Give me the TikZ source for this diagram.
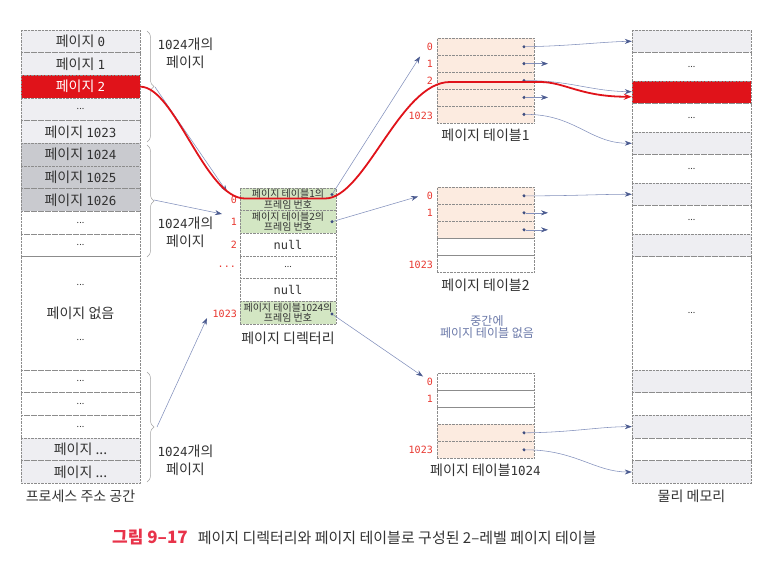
\documentclass[tikz,border=0pt]{standalone}
\usepackage{fontspec}
\setmainfont{Noto Sans CJK KR}
\newfontfamily\mono{DejaVu Sans Mono}
\usetikzlibrary{arrows.meta,decorations.pathreplacing}
\definecolor{cA}{HTML}{EEEEF2}
\definecolor{cB}{HTML}{C9CACF}
\definecolor{cR}{HTML}{E0131A}
\definecolor{cG}{HTML}{D3E6C3}
\definecolor{cP}{HTML}{FCEBE0}
\definecolor{bordc}{HTML}{8C8C8C}
\definecolor{txtc}{HTML}{333333}
\definecolor{idxc}{HTML}{E8372F}
\definecolor{connc}{HTML}{8290BC}
\definecolor{tipc}{HTML}{4B5B90}
\definecolor{dotc}{HTML}{3F4E80}
\definecolor{noteC}{HTML}{6A78A8}
\definecolor{capR}{HTML}{E8334A}
\newcommand\ddd{{\fontsize{9}{10}\selectfont ...}}
\newcommand\dg[1]{{\mono\fontsize{12.5}{14}\selectfont #1}}
\begin{document}
\begin{tikzpicture}[x=1pt,y=-1pt,
  cell/.style={draw=bordc, densely dotted, inner sep=0pt, text=txtc, font=\fontsize{14}{15}\selectfont},
  lcell/.style={cell, minimum width=119pt, minimum height=22.67pt},
  pcell/.style={cell, minimum width=96pt, minimum height=22.67pt},
  gcell/.style={pcell, fill=cG, align=center, font=\fontsize{10}{10.5}\selectfont},
  tcell/.style={cell, minimum width=97pt, minimum height=16.9pt},
  mcell/.style={cell, minimum width=119pt},
  idx/.style={anchor=east, text=idxc, inner sep=0pt, font=\mono\fontsize{10}{12}\selectfont},
  lbl/.style={text=txtc, inner sep=0pt, font=\fontsize{14}{15}\selectfont},
  blbl/.style={text=txtc, inner sep=0pt, align=center, font=\fontsize{14}{17.5}\selectfont},
  brc/.style={draw=bordc!80, line width=0.5pt, decorate, decoration={brace, amplitude=7pt}},
  conn/.style={draw=connc, line width=0.55pt, -{Stealth[length=7pt,width=5pt,color=tipc]}},
  dot/.style={circle, fill=dotc, inner sep=0pt, minimum size=3.4pt},
  redline/.style={draw=cR, line width=1.8pt, -{Stealth[length=8pt,width=6pt]}}
]
\useasboundingbox (0,0) rectangle (775,561);

% ---------- process address space ----------
\node[lcell, fill=cA] (L0) at (80.5,41.33) {페이지 \dg{0}};
\node[lcell, fill=cA] (L1) at (80.5,64) {페이지 \dg{1}};
\node[lcell, fill=cR, text=white] (L2) at (80.5,86.67) {페이지 \dg{2}};
\node[lcell, fill=cA] (L3) at (80.5,109.33) {\ddd};
\node[lcell, fill=cA] (L4) at (80.5,132) {페이지 \dg{1023}};
\node[lcell, fill=cB] (L5) at (80.5,154.67) {페이지 \dg{1024}};
\node[lcell, fill=cB] (L6) at (80.5,177.33) {페이지 \dg{1025}};
\node[lcell, fill=cB] (L7) at (80.5,200) {페이지 \dg{1026}};
\node[lcell] (L8) at (80.5,222.67) {\ddd};
\node[lcell] (L9) at (80.5,245.33) {\ddd};
\node[lcell, minimum height=113.33pt] (L10) at (80.5,313.33) {};
\node[lbl] (L10a) at (80.5,285) {\ddd};
\node[lbl] (L10b) at (80.5,313) {페이지 없음};
\node[lbl] (L10c) at (80.5,340) {\ddd};
\node[lcell] (L11) at (80.5,381.33) {\ddd};
\node[lcell] (L12) at (80.5,404) {\ddd};
\node[lcell] (L13) at (80.5,426.67) {\ddd};
\node[lcell, fill=cA] (L14) at (80.5,449.33) {페이지 ...};
\node[lcell, fill=cA] (L15) at (80.5,472) {페이지 ...};
\node[lbl] (Lcap) at (80.5,496) {프로세스 주소 공간};

% braces
\draw[brc] (147,31) -- (147,142);
\draw[brc] (147,145) -- (147,257);
\draw[brc] (147,372) -- (147,482);
\coordinate (b1) at (155,87);
\coordinate (b2) at (154,200);
\coordinate (b3) at (157,427);
\node[blbl] (n1) at (185.5,53.5) {\dg{1024}개의\\페이지};
\node[blbl] (n2) at (185.5,232.5) {\dg{1024}개의\\페이지};
\node[blbl] (n3) at (185.5,460.5) {\dg{1024}개의\\페이지};

% ---------- page directory ----------
\node[gcell] (D0) at (288,199.33) {페이지 테이블1의\\프레임 번호};
\node[gcell] (D1) at (288,222) {페이지 테이블2의\\프레임 번호};
\node[pcell] (D2) at (288,244.67) {\mono\fontsize{12}{14}\selectfont null};
\node[pcell] (D3) at (288,267.33) {\ddd};
\node[pcell] (D4) at (288,290) {\mono\fontsize{12}{14}\selectfont null};
\node[gcell] (D5) at (288,312.67) {페이지 테이블1024의\\프레임 번호};
\node[lbl] (Dcap) at (288,338) {페이지 디렉터리};
\node[idx] (di0) at (237,200) {0};
\node[idx] (di1) at (237,221.7) {1};
\node[idx] (di2) at (237,245) {2};
\node[idx] (di3) at (236,266.7) {...};
\node[idx] (di5) at (237,314) {1023};
\node[dot] (dd0) at (332,194.5) {};
\node[dot] (dd1) at (332,221.7) {};
\node[dot] (dd5) at (332,314) {};

% ---------- page table 1 ----------
\node[tcell, fill=cP] (A0) at (485.5,46.75) {};
\node[tcell, fill=cP] (A1) at (485.5,63.65) {};
\node[tcell, fill=cP] (A2) at (485.5,80.55) {};
\node[tcell, fill=cP] (A3) at (485.5,97.45) {};
\node[tcell, fill=cP] (A4) at (485.5,114.35) {};
\node[lbl] (Acap) at (485.5,135) {페이지 테이블1};
\node[idx] (ai0) at (433,46.75) {0};
\node[idx] (ai1) at (433,63.65) {1};
\node[idx] (ai2) at (433,80.55) {2};
\node[idx] (ai4) at (433,115.5) {1023};
\node[dot] (ad0) at (524,46.75) {};
\node[dot] (ad1) at (524,63.65) {};
\node[dot] (ad2) at (524,80.55) {};
\node[dot] (ad3) at (524,97.45) {};
\node[dot] (ad4) at (524,114.35) {};
\coordinate (ae1) at (548,63.65);
\coordinate (ae3) at (548,97.45);

% ---------- page table 2 ----------
\node[tcell, fill=cP] (B0) at (485.5,195.8) {};
\node[tcell, fill=cP] (B1) at (485.5,212.8) {};
\node[tcell, fill=cP] (B2) at (485.5,229.8) {};
\node[tcell] (B3) at (485.5,246.8) {};
\node[tcell] (B4) at (485.5,263.8) {};
\node[lbl] (Bcap) at (485.5,285) {페이지 테이블2};
\node[idx] (bi0) at (433,195.8) {0};
\node[idx] (bi1) at (433,212.8) {1};
\node[idx] (bi4) at (433,265) {1023};
\node[dot] (bd0) at (524,195.8) {};
\node[dot] (bd1) at (524,212.8) {};
\node[dot] (bd2) at (524,229.8) {};
\coordinate (be1) at (548,212.8);
\coordinate (be2) at (548,229.8);
\node[text=noteC, inner sep=0pt, align=center, font=\fontsize{12}{12}\selectfont] (note) at (487,327.5) {중간에\\페이지 테이블 없음};

% ---------- page table 1024 ----------
\node[tcell] (C0) at (485.5,381.8) {};
\node[tcell] (C1) at (485.5,398.8) {};
\node[tcell] (C2) at (485.5,415.8) {};
\node[tcell, fill=cP] (C3) at (485.5,432.8) {};
\node[tcell, fill=cP] (C4) at (485.5,449.8) {};
\node[lbl] (Ccap) at (485.5,470) {페이지 테이블\dg{1024}};
\node[idx] (ci0) at (433,381.8) {0};
\node[idx] (ci1) at (433,398.8) {1};
\node[idx] (ci4) at (433,450) {1023};
\node[dot] (cd3) at (524,432.8) {};
\node[dot] (cd4) at (524,449.8) {};

% ---------- physical memory ----------
\node[mcell, fill=cA, minimum height=22.5pt] (M0) at (691.5,41.25) {};
\node[mcell, minimum height=28.5pt] (M1) at (691.5,66.75) {\ddd};
\node[mcell, fill=cR, minimum height=22.5pt] (M2) at (691.5,92.25) {};
\node[mcell, minimum height=28.5pt] (M3) at (691.5,117.75) {\ddd};
\node[mcell, fill=cA, minimum height=22.5pt] (M4) at (691.5,143.25) {};
\node[mcell, minimum height=28.5pt] (M5) at (691.5,168.75) {\ddd};
\node[mcell, fill=cA, minimum height=22.5pt] (M6) at (691.5,194.25) {};
\node[mcell, minimum height=28.5pt] (M7) at (691.5,219.75) {\ddd};
\node[mcell, fill=cA, minimum height=22.5pt] (M8) at (691.5,245.25) {};
\node[mcell, minimum height=113.5pt] (M9) at (691.5,313.25) {\ddd};
\node[mcell, fill=cA, minimum height=22.67pt] (M10) at (691.5,381.33) {};
\node[mcell, minimum height=22.67pt] (M11) at (691.5,404) {};
\node[mcell, fill=cA, minimum height=22.67pt] (M12) at (691.5,426.67) {};
\node[mcell, minimum height=22.67pt] (M13) at (691.5,449.33) {};
\node[mcell, fill=cA, minimum height=22.67pt] (M14) at (691.5,472) {};
\node[lbl] (Mcap) at (691.5,496) {물리 메모리};

% ---------- connectors ----------
\coordinate (d0in) at (227,192);
\coordinate (d1in) at (222,214);
\coordinate (d5in) at (207,318);
\draw[conn] (b1) -- (d0in);
\draw[conn] (b2) -- (d1in);
\draw[conn] (b3) -- (d5in);

\coordinate (t1in) at (420,56.5);
\coordinate (t2in) at (418,196.5);
\coordinate (t3in) at (423,376.5);
\draw[conn] (dd0) -- (t1in);
\draw[conn] (dd1) -- (t2in);
\draw[conn] (dd5) -- (t3in);

\draw[conn] (ad0) .. controls (570,46) and (600,42) .. (M0.west);
\draw[conn] (ad1) -- (ae1);
\draw[conn] (ad2) .. controls (570,80.5) and (590,91) .. ([yshift=0.5pt]M2.west);
\draw[conn] (ad3) -- (ae3);
\draw[conn] (ad4) .. controls (575,114.35) and (590,143.25) .. (M4.west);
\draw[conn] (bd0) .. controls (570,196) and (600,194.25) .. (M6.west);
\draw[conn] (bd1) -- (be1);
\draw[conn] (bd2) -- (be2);
\draw[conn] (cd3) .. controls (570,432.5) and (600,426.67) .. (M12.west);
\draw[conn] (cd4) .. controls (575,449.8) and (595,472) .. (M14.west);

% red path
\draw[redline] (L2.east) .. controls (175,86.67) and (205,198.5) .. (245,198.5) -- (325,198.5) .. controls (365,198.5) and (400,82) .. (450,82) -- (540,82) .. controls (565,82) and (580,96.75) .. ([yshift=-4.5pt]M2.west);

% caption
\node[anchor=west, inner sep=0pt] (cap) at (112,537) {{\color{capR}\bfseries\fontsize{17}{18}\selectfont 그림 9–17}\hspace{10pt}{\color{txtc}\fontsize{15}{16}\selectfont 페이지 디렉터리와 페이지 테이블로 구성된 2–레벨 페이지 테이블}};
\end{tikzpicture}
\end{document}
